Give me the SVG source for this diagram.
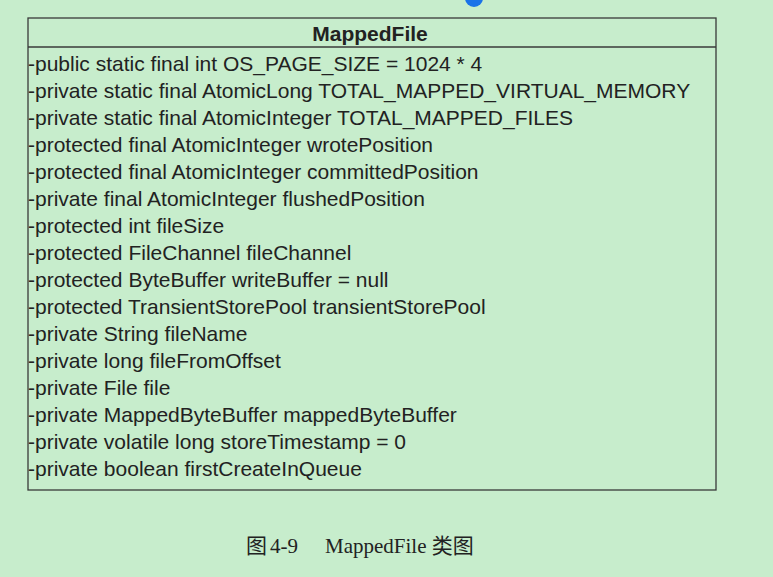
<svg xmlns="http://www.w3.org/2000/svg" width="773" height="577" viewBox="0 0 773 577">
<style>
.bg{fill:#c7edcc}
.box{fill:none;stroke:#3a3a3a;stroke-width:1.3}
.t{font-family:"Liberation Sans",Arial,sans-serif;font-size:21px;fill:#222}
.h{font-family:"Liberation Sans",Arial,sans-serif;font-size:21px;font-weight:bold;fill:#222}
.cap{font-family:"Liberation Serif","Noto Sans CJK SC",serif;font-size:21px;fill:#222}
</style>
<rect class="bg" x="0" y="0" width="773" height="577"/>
<circle cx="474" cy="-2" r="9" fill="#1a73e8"/>
<g id="MappedFile">
<rect class="box" x="28" y="18" width="688" height="472"/>
<line class="box" x1="28" y1="47" x2="716" y2="47"/>
<text class="h" x="370" y="41" text-anchor="middle">MappedFile</text>
<text class="t" x="28" y="71">-public static final int OS_PAGE_SIZE = 1024 * 4</text>
<text class="t" x="28" y="98">-private static final AtomicLong TOTAL_MAPPED_VIRTUAL_MEMORY</text>
<text class="t" x="28" y="125">-private static final AtomicInteger TOTAL_MAPPED_FILES</text>
<text class="t" x="28" y="152">-protected final AtomicInteger wrotePosition</text>
<text class="t" x="28" y="179">-protected final AtomicInteger committedPosition</text>
<text class="t" x="28" y="206">-private final AtomicInteger flushedPosition</text>
<text class="t" x="28" y="233">-protected int fileSize</text>
<text class="t" x="28" y="260">-protected FileChannel fileChannel</text>
<text class="t" x="28" y="287">-protected ByteBuffer writeBuffer = null</text>
<text class="t" x="28" y="314">-protected TransientStorePool transientStorePool</text>
<text class="t" x="28" y="341">-private String fileName</text>
<text class="t" x="28" y="368">-private long fileFromOffset</text>
<text class="t" x="28" y="395">-private File file</text>
<text class="t" x="28" y="422">-private MappedByteBuffer mappedByteBuffer</text>
<text class="t" x="28" y="449">-private volatile long storeTimestamp = 0</text>
<text class="t" x="28" y="476">-private boolean firstCreateInQueue</text>
</g>
<text class="cap" y="553"><tspan x="246">图</tspan><tspan x="270">4-9</tspan><tspan x="325">MappedFile 类图</tspan></text>
</svg>
